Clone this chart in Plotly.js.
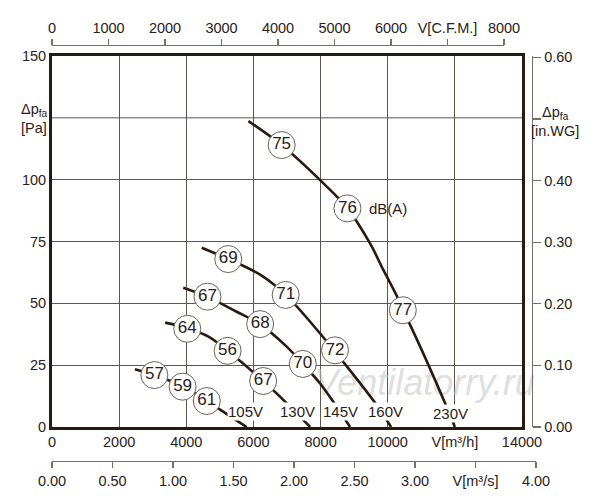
<!DOCTYPE html>
<html>
<head>
<meta charset="utf-8">
<script src="https://cdn.plot.ly/plotly-3.0.1.min.js"></script>
<style>
  html, body { margin: 0; padding: 0; background: #fff; }
  #fan-chart { width: 600px; height: 500px; }
</style>
</head>
<body>
<div id="fan-chart"></div>
<script>
// ── Data ─────────────────────────────────────────────────────────────
// flow in m³/h, pressure in Pa

const flow105 = [2470, 3050, 3510, 3900, 4260, 4610, 5100, 5550, 5800];
const pres105 = [23.3, 21.0, 18.7, 16.2, 13.6, 10.5, 6.2, 2.2, 0];

const flow130 = [3370, 4040, 4660, 5230, 6290, 6790, 7690];
const pres130 = [42.2, 39.9, 36.5, 30.8, 18.6, 12.3, 0];

const flow145 = [3910, 4630, 5500, 6200, 6990, 7470, 7980, 8380, 8880];
const pres145 = [56.3, 52.6, 46.6, 41.5, 32.5, 25.5, 17.7, 10.2, 0];

const flow160 = [4460, 5250, 6200, 6960, 7980, 8630, 9670, 10100];
const pres160 = [72.5, 67.9, 61.6, 53.4, 37.9, 27.1, 8.9, 0];

const flow230 = [5850, 6840, 7980, 8800, 9470, 9870, 10270, 10450, 10660, 11710, 12000];
const pres230 = [123.7, 114.0, 99.9, 88.4, 74.3, 63.5, 53.0, 47.2, 41.5, 9.6, 0];

// noise level markers, dB(A)
const dbFlow = [3050, 3890, 4610,  4030, 5230, 6290,  4630, 6200, 7470,  5250, 6960, 8430,  6840, 8800, 10450];
const dbPres = [21.0, 16.3, 10.5,  39.7, 30.8, 18.6,  52.7, 41.6, 25.5,  67.9, 53.4, 31.0,  114.0, 88.4, 47.2];
const dbText = ['57', '59', '61',  '64', '56', '67',  '67', '68', '70',  '69', '71', '72',  '75', '76', '77'];

const voltNames = ['105V', '130V', '145V', '160V', '230V'];
const voltFlow = [5750, 7300, 8590, 9930, 11870];
const voltPres = [6.1, 6.1, 6.1, 6.1, 5.6];

// axis ticks
const flowTicks = [0, 2000, 4000, 6000, 8000, 10000, 12000, 14000];
const flowLabels = ['0', '2000', '4000', '6000', '8000', '10000', 'V[m³/h]', '14000'];
const presTicks = [0, 25, 50, 75, 100, 150];
const presLabels = ['0', '25', '50', '75', '100', '150'];
const cfmTicks = [0, 1000, 2000, 3000, 4000, 5000, 6000, 7000, 8000];
const cfmLabels = ['0', '1000', '2000', '3000', '4000', '5000', '6000', 'V[C.F.M.]', '8000'];
const m3sTicks = [0, 0.5, 1, 1.5, 2, 2.5, 3, 3.5, 4];
const m3sLabels = ['0.00', '0.50', '1.00', '1.50', '2.00', '2.50', '3.00', 'V[m³/s]', '4.00'];
const wgTicks = [0, 0.1, 0.2, 0.3, 0.4, 0.5, 0.6];
const wgLabels = ['0.00', '0.10', '0.20', '0.30', '0.40', ' ', '0.60'];

const PA_PER_INWG = 249.089;

// ── Styling ──────────────────────────────────────────────────────────

const INK = '#2a2119';
const CURVE = '#2a1a0e';
const GRID = '#5f564d';
const AXIS = '#7a6f64';
const FONT = 'Liberation Sans, Arial, sans-serif';

// paper area spans px 52..536 horizontally, 45..461 vertically
const W = 484, H = 416;
const pxX = px => (px - 52) / W;
const pxY = py => (461 - py) / H;

function curve(x, y) {
    return {
        x: x, y: y,
        type: 'scatter', mode: 'lines',
        line: { color: CURVE, width: 2.6, shape: 'spline', smoothing: 1 },
        hoverinfo: 'skip', showlegend: false
    };
}

const traces = [
    // faint watermark, under everything
    {
        x: [11100], y: [16.5], type: 'scatter', mode: 'text',
        text: ['<i>Ventilatorry.ru</i>'],
        textfont: { family: FONT, size: 36, color: 'rgba(195,195,195,0.55)' },
        cliponaxis: false, hoverinfo: 'skip', showlegend: false
    },
    curve(flow105, pres105),
    curve(flow130, pres130),
    curve(flow145, pres145),
    curve(flow160, pres160),
    curve(flow230, pres230),
    {
        x: dbFlow, y: dbPres, text: dbText,
        type: 'scatter', mode: 'markers+text',
        marker: { symbol: 'circle', size: 27, color: '#fff', line: { color: '#6b6158', width: 1 } },
        textposition: 'middle center',
        textfont: { family: FONT, size: 17, color: INK },
        cliponaxis: false, hoverinfo: 'skip', showlegend: false
    },
    // placeholders so the extra axes get drawn
    { x: [0], y: [0], xaxis: 'x', yaxis: 'y2', mode: 'markers', marker: { opacity: 0 }, hoverinfo: 'skip', showlegend: false },
    { x: [0], y: [0], xaxis: 'x2', yaxis: 'y4', mode: 'markers', marker: { opacity: 0 }, hoverinfo: 'skip', showlegend: false },
    { x: [0], y: [0], xaxis: 'x3', yaxis: 'y3', mode: 'markers', marker: { opacity: 0 }, hoverinfo: 'skip', showlegend: false }
];

const tickFont = { family: FONT, size: 14.5, color: INK };

const voltNotes = voltNames.map((v, i) => ({
    text: v, x: voltFlow[i], y: voltPres[i], xref: 'x', yref: 'y',
    showarrow: false, bgcolor: '#fff', borderpad: 0,
    font: { family: FONT, size: 15, color: INK }
}));

const layout = {
    width: 600, height: 500,
    margin: { l: 52, r: 64, t: 45, b: 39 },
    paper_bgcolor: '#fff', plot_bgcolor: '#fff',
    font: { family: FONT, color: INK },
    showlegend: false,
    xaxis: {
        domain: [0, 470 / W], range: [0, 14000],
        tickmode: 'array', tickvals: flowTicks, ticktext: flowLabels,
        ticks: '', tickfont: tickFont,
        showgrid: true, gridcolor: GRID, gridwidth: 1, zeroline: false,
        showline: true, linecolor: CURVE, linewidth: 3, mirror: true,
        fixedrange: true
    },
    yaxis: {
        domain: [pxY(427), pxY(56)], range: [0, 150],
        tickmode: 'array', tickvals: presTicks, ticktext: presLabels,
        ticks: '', tickfont: tickFont,
        showgrid: true, gridcolor: GRID, gridwidth: 1, zeroline: false,
        showline: true, linecolor: CURVE, linewidth: 3, mirror: true,
        dtick: 25, fixedrange: true
    },
    yaxis2: {
        overlaying: 'y', anchor: 'free', position: pxX(532), side: 'right',
        range: [0, 150 / PA_PER_INWG],
        tickmode: 'array', tickvals: wgTicks, ticktext: wgLabels,
        ticks: 'outside', ticklen: 8, tickcolor: AXIS, tickwidth: 1.3, tickfont: tickFont,
        showline: true, linecolor: AXIS, linewidth: 1.3,
        showgrid: false, zeroline: false, fixedrange: true
    },
    // top: cubic feet per minute
    xaxis2: {
        domain: [0, pxX(504)], anchor: 'free', position: 1, side: 'top',
        range: [0, 8000],
        tickmode: 'array', tickvals: cfmTicks, ticktext: cfmLabels,
        ticks: 'outside', ticklen: 6, tickcolor: AXIS, tickwidth: 1.3, tickfont: tickFont,
        showline: true, linecolor: AXIS, linewidth: 1.3,
        showgrid: false, zeroline: false, fixedrange: true
    },
    yaxis4: { domain: [0.985, 1], visible: false, range: [1, 2], fixedrange: true },
    // bottom: cubic metres per second
    xaxis3: {
        domain: [0, 1], anchor: 'free', position: 0, side: 'bottom',
        range: [0, 4],
        tickmode: 'array', tickvals: m3sTicks, ticktext: m3sLabels,
        ticks: 'outside', ticklen: 6, tickcolor: AXIS, tickwidth: 1.3, tickfont: tickFont,
        showline: true, linecolor: AXIS, linewidth: 1.3,
        showgrid: false, zeroline: false, fixedrange: true
    },
    yaxis3: { domain: [0, 0.015], visible: false, range: [1, 2], fixedrange: true },
    // the 125 Pa gridline carries the axis caption instead of a number
    shapes: [{
        type: 'line', xref: 'paper', yref: 'y', x0: 0, x1: 470 / W, y0: 125, y1: 125,
        line: { color: GRID, width: 1 }, layer: 'below'
    }],
    annotations: [
        {
            text: 'Δp<sub>fa</sub><br>[Pa]', xref: 'paper', yref: 'paper',
            x: pxX(19), y: pxY(118), xanchor: 'left', yanchor: 'middle', align: 'left',
            showarrow: false, font: { family: FONT, size: 14.5, color: INK }
        },
        {
            text: 'Δp<sub>fa</sub><br>[in.WG]', xref: 'paper', yref: 'paper',
            x: pxX(555), y: pxY(121), xanchor: 'center', yanchor: 'middle', align: 'center',
            showarrow: false, font: { family: FONT, size: 14.5, color: INK }
        },
        {
            text: 'dB(A)', xref: 'x', yref: 'y', x: 9380, y: 88.4,
            xanchor: 'left', yanchor: 'middle', showarrow: false,
            font: { family: FONT, size: 15, color: INK }
        }
    ].concat(voltNotes)
};

Plotly.newPlot('fan-chart', traces, layout, { displayModeBar: false, staticPlot: true });
</script>
</body>
</html>
